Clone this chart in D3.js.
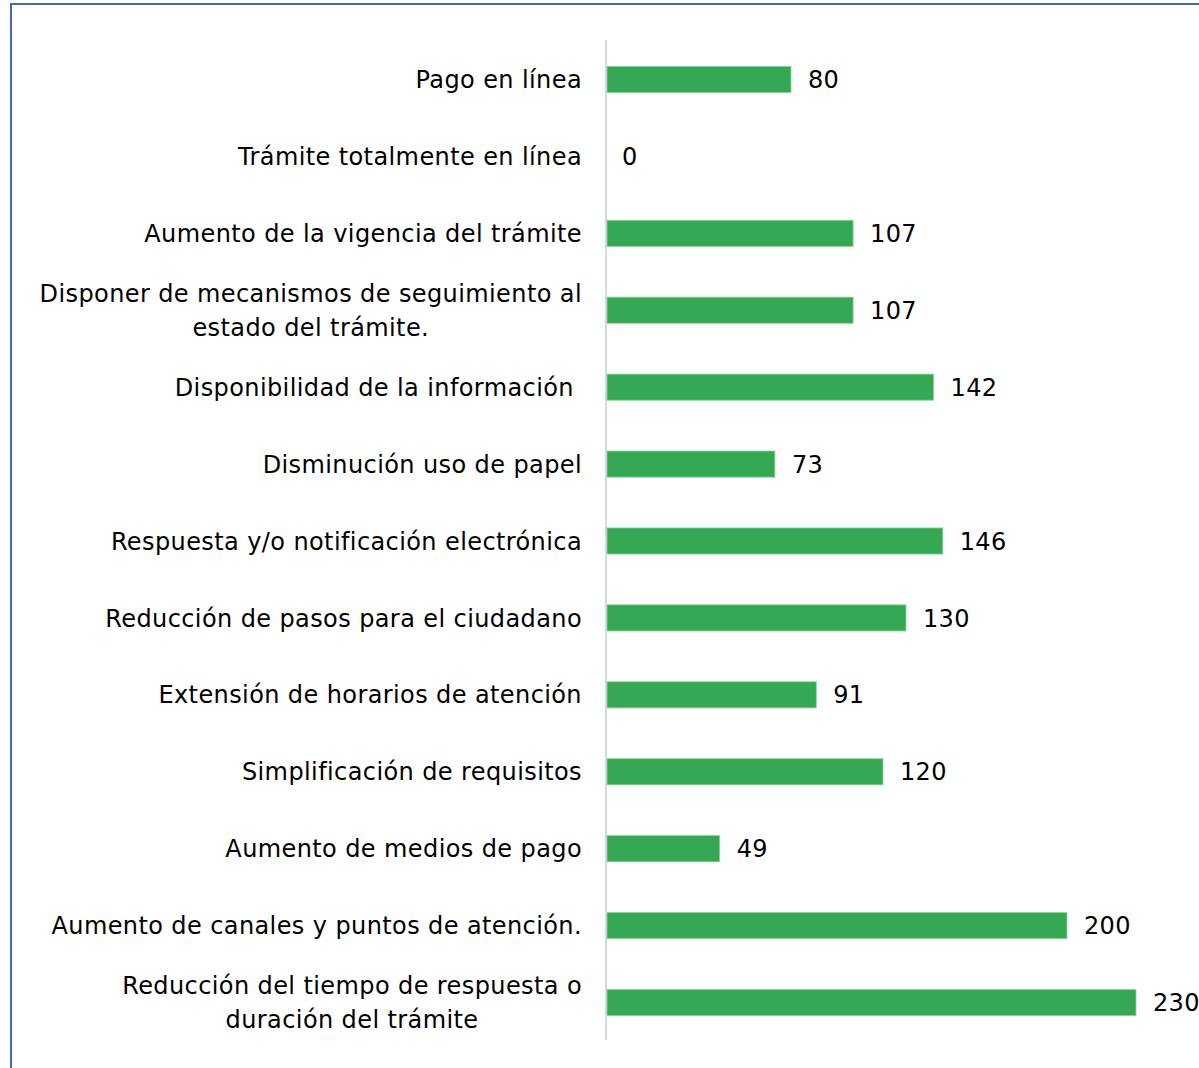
<!DOCTYPE html>
<html>
<head>
<meta charset="utf-8">
<script src="https://cdn.jsdelivr.net/npm/d3@7"></script>
<style>
  body { margin: 0; background: #fff; }
  svg { display: block; font-family: 'DejaVu Sans', sans-serif; }
  .cat-label { white-space: pre; }
</style>
</head>
<body>
<svg width="1199" height="1068"></svg>
<script>
const svg = d3.select('svg');
const width  = +svg.attr('width');
const height = +svg.attr('height');

// Categories, top to bottom (each entry is a list of label lines)
const categories = [
  ['Pago en línea'],
  ['Trámite totalmente en línea'],
  ['Aumento de la vigencia del trámite'],
  ['Disponer de mecanismos de seguimiento al', 'estado del trámite.'],
  ['Disponibilidad de la información '],
  ['Disminución uso de papel'],
  ['Respuesta y/o notificación electrónica'],
  ['Reducción de pasos para el ciudadano'],
  ['Extensión de horarios de atención'],
  ['Simplificación de requisitos'],
  ['Aumento de medios de pago'],
  ['Aumento de canales y puntos de atención.'],
  ['Reducción del tiempo de respuesta o', 'duración del trámite']
];
const values = [80, 0, 107, 107, 142, 73, 146, 130, 91, 120, 49, 200, 230];

const data = categories.map((c, i) => ({ key: c.join(' '), lines: c, value: values[i] }));

// Frame border
svg.append('rect')
  .attr('x', 11).attr('y', 4)
  .attr('width', width + 20).attr('height', height + 20)
  .attr('fill', 'none')
  .attr('stroke', '#4169b5')
  .attr('stroke-width', 2);

const x0 = 607;
const xScale = d3.scaleLinear()
  .domain([0, 230])
  .range([x0, 1136]);

const yScale = d3.scaleBand()
  .domain(data.map(d => d.key))
  .range([41, 1041])
  .paddingInner(0.66)
  .paddingOuter(0.33);

// Vertical axis line
svg.append('line')
  .attr('x1', 606).attr('x2', 606)
  .attr('y1', 40).attr('y2', 1040)
  .attr('stroke', '#d9d9d9')
  .attr('stroke-width', 2);

// Bars
svg.selectAll('rect.bar').data(data)
  .enter().append('rect')
    .attr('class', 'bar')
    .attr('x', xScale(0))
    .attr('y', d => yScale(d.key))
    .attr('width', d => xScale(d.value) - xScale(0))
    .attr('height', yScale.bandwidth())
    .attr('fill', '#35a853')
    .attr('stroke', d => d.value > 0 ? '#8fd3a0' : 'none')
    .attr('stroke-width', 0.8);

// Value labels
svg.selectAll('text.val').data(data)
  .enter().append('text')
    .attr('class', 'val')
    .attr('x', d => xScale(d.value) + (d.value > 0 ? 17 : 15))
    .attr('y', d => yScale(d.key) + yScale.bandwidth() / 2)
    .attr('dy', '0.36em')
    .attr('font-size', 24)
    .attr('letter-spacing', 0.3)
    .attr('fill', '#000')
    .text(d => d.value);

// Category labels (multi-line ones centred as a block, block right-aligned)
const labelRight = 582;
const lineH = 34;
data.forEach(d => {
  const cy = yScale(d.key) + yScale.bandwidth() / 2;
  const g = svg.append('g');
  const texts = d.lines.map((ln, i) => g.append('text')
    .attr('class', 'cat-label')
    .attr('y', cy + (i - (d.lines.length - 1) / 2) * lineH)
    .attr('dy', '0.36em')
    .attr('font-size', 24)
    .attr('letter-spacing', 0.4)
    .attr('fill', '#000')
    .text(ln));
  if (d.lines.length === 1) {
    texts[0].attr('x', labelRight).attr('text-anchor', 'end');
  } else {
    const maxW = d3.max(texts, t => t.node().getComputedTextLength());
    texts.forEach(t => t.attr('x', labelRight - maxW / 2).attr('text-anchor', 'middle'));
  }
});
</script>
</body>
</html>
